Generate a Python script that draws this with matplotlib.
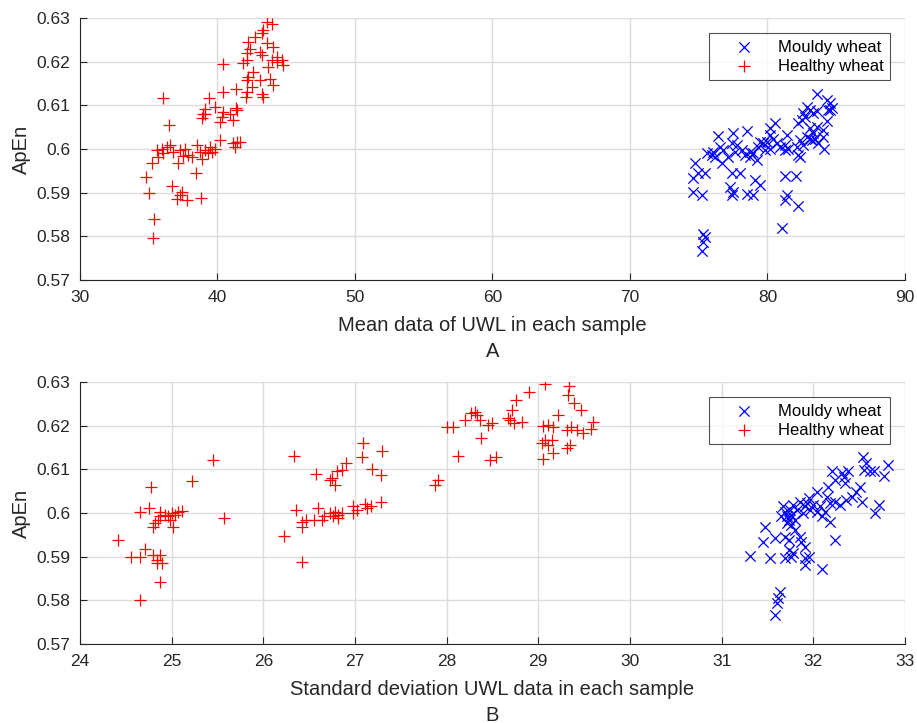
import numpy as np
import matplotlib.pyplot as plt

plt.rcParams['font.family'] = ['Liberation Sans', 'DejaVu Sans']

# Panel A: mean UWL vs ApEn
mean_healthy = np.array([
    43.58, 43.94, 43.33, 43.22, 42.73, 42.24, 44.06, 42.37, 43.09, 42.12,
    43.22, 43.94, 44.31, 44.67, 44.79, 42.12, 41.88, 40.38, 43.70, 42.61,
    42.25, 43.09, 43.82, 44.06, 42.12, 40.43, 41.35, 42.12, 43.22, 43.34,
    42.08, 36.02, 39.39, 39.82, 39.09, 38.92, 38.85, 40.43, 40.31, 40.18,
    40.91, 41.35, 41.45, 41.16, 36.50, 40.18, 41.16, 41.40, 41.64, 41.28,
    35.58, 35.94, 36.31, 36.55, 35.70, 36.79, 37.28, 37.64, 37.88, 38.49,
    38.73, 39.09, 39.34, 39.58, 39.82, 38.85, 37.15, 35.22, 38.44, 34.80,
    36.67, 37.40, 37.28, 37.03, 37.81, 38.78, 35.05, 35.39, 35.29, 38.12,
    39.46, 36.06, 37.52, 44.31, 43.58, 42.49, 39.09
])
apen_healthy_a = np.array([
    0.6291, 0.6286, 0.6272, 0.6265, 0.6257, 0.6246, 0.6234, 0.6230, 0.6223, 0.6219,
    0.6215, 0.6203, 0.6200, 0.6203, 0.6192, 0.6203, 0.6196, 0.6194, 0.6188, 0.6177,
    0.6165, 0.6158, 0.6161, 0.6146, 0.6158, 0.6131, 0.6137, 0.6131, 0.6127, 0.6118,
    0.6118, 0.6117, 0.6117, 0.6097, 0.6091, 0.6081, 0.6070, 0.6085, 0.6074, 0.6062,
    0.6081, 0.6093, 0.6089, 0.6066, 0.6056, 0.6020, 0.6013, 0.6017, 0.6017, 0.6005,
    0.5997, 0.6001, 0.6005, 0.6009, 0.5982, 0.5994, 0.5997, 0.6001, 0.5986, 0.6009,
    0.5994, 0.5997, 0.5990, 0.5994, 0.6001, 0.5978, 0.5968, 0.5967, 0.5944, 0.5936,
    0.5916, 0.5902, 0.5894, 0.5885, 0.5883, 0.5887, 0.5900, 0.5839, 0.5797, 0.5982,
    0.6005, 0.5990, 0.5984, 0.6211, 0.6242, 0.6143, 0.6081
])

mean_mouldy = np.array([
    83.58, 84.30, 84.55, 84.67, 84.43, 82.85, 83.09, 83.33, 83.58, 82.61,
    82.73, 84.30, 82.24, 80.55, 80.18, 78.49, 77.52, 76.43, 83.58, 83.33,
    83.09, 84.06, 84.06, 84.11, 74.73, 74.97, 75.46, 74.61, 74.61, 75.21,
    77.39, 78.00, 77.27, 77.52, 77.39, 78.49, 78.97, 79.09, 79.46, 81.27,
    82.07, 81.39, 81.27, 82.19, 81.03, 75.33, 75.46, 75.33, 75.26, 75.58,
    75.94, 76.06, 76.55, 76.79, 76.67, 77.15, 77.64, 77.76, 78.12, 78.36,
    78.73, 78.97, 79.21, 79.33, 79.70, 79.94, 80.18, 80.43, 80.67, 80.91,
    81.27, 81.27, 81.39, 82.12, 82.24, 82.36, 82.61, 82.85, 83.21, 83.45,
    83.70, 79.46, 80.18, 76.18, 77.39, 78.73, 79.82, 81.52, 82.36, 83.09,
    84.55, 82.49
])
apen_mouldy_a = np.array([
    0.6126, 0.6112, 0.6105, 0.6093, 0.6089, 0.6097, 0.6089, 0.6082, 0.6088, 0.6082,
    0.6073, 0.6063, 0.6059, 0.6059, 0.6047, 0.6042, 0.6036, 0.6030, 0.6051, 0.6036,
    0.6024, 0.6028, 0.6043, 0.6000, 0.5967, 0.5944, 0.5944, 0.5933, 0.5902, 0.5895,
    0.5944, 0.5944, 0.5914, 0.5902, 0.5895, 0.5898, 0.5895, 0.5929, 0.5917, 0.5938,
    0.5938, 0.5895, 0.5883, 0.5870, 0.5820, 0.5805, 0.5798, 0.5786, 0.5767, 0.5990,
    0.5986, 0.5994, 0.6005, 0.5998, 0.5967, 0.5982, 0.5994, 0.6009, 0.5998, 0.5986,
    0.5994, 0.5990, 0.5975, 0.6005, 0.6013, 0.6017, 0.6001, 0.6024, 0.6013, 0.6005,
    0.6009, 0.5998, 0.6032, 0.6005, 0.5986, 0.6021, 0.6009, 0.6028, 0.6021, 0.6024,
    0.6013, 0.6017, 0.6032, 0.5982, 0.6013, 0.5982, 0.5998, 0.6001, 0.5982, 0.6047,
    0.6089, 0.6066
])

# Panel B: standard deviation UWL vs ApEn
std_healthy = np.array([
    25.45, 25.22, 24.77, 24.65, 24.75, 24.87, 24.87, 24.85, 24.82, 24.80,
    24.96, 25.00, 25.04, 25.07, 25.11, 24.98, 25.02, 25.57, 24.41, 24.56,
    24.65, 24.71, 24.80, 24.87, 24.84, 24.84, 24.90, 24.87, 24.65, 24.93,
    26.34, 27.09, 27.30, 27.08, 26.90, 27.19, 27.28, 26.86, 26.80, 26.58,
    26.75, 26.73, 26.78, 26.36, 26.60, 26.98, 27.11, 27.13, 27.28, 27.18,
    26.98, 26.73, 26.78, 26.82, 26.76, 26.86, 26.81, 26.66, 26.42, 26.47,
    26.55, 26.64, 26.42, 26.23, 26.42, 27.02, 27.87, 27.91, 28.00, 28.07,
    28.12, 28.20, 28.27, 28.31, 28.33, 28.36, 28.45, 28.49, 28.38, 28.47,
    28.54, 28.76, 28.90, 28.71, 28.67, 28.73, 28.82, 29.07, 29.33, 29.32,
    29.39, 29.47, 29.22, 29.60, 29.58, 29.05, 29.11, 29.16, 29.31, 29.36,
    29.42, 29.49, 29.04, 29.07, 29.15, 29.11, 29.31, 29.35, 29.16, 29.05,
    28.69
])
apen_healthy_b = np.array([
    0.6121, 0.6073, 0.6059, 0.6003, 0.6012, 0.6003, 0.5992, 0.5984, 0.5977, 0.5969,
    0.5992, 0.6000, 0.5996, 0.6003, 0.6005, 0.5984, 0.5969, 0.5989, 0.5937, 0.5899,
    0.5899, 0.5917, 0.5904, 0.5904, 0.5892, 0.5885, 0.5885, 0.5843, 0.5801, 0.5996,
    0.6131, 0.6161, 0.6141, 0.6129, 0.6114, 0.6100, 0.6087, 0.6099, 0.6095, 0.6089,
    0.6080, 0.6076, 0.6064, 0.6007, 0.6012, 0.6016, 0.6021, 0.6011, 0.6026, 0.6016,
    0.6000, 0.6000, 0.6003, 0.5996, 0.5992, 0.6000, 0.5988, 0.5992, 0.5980, 0.5984,
    0.5984, 0.5984, 0.5969, 0.5947, 0.5888, 0.6007, 0.6064, 0.6076, 0.6196, 0.6196,
    0.6131, 0.6213, 0.6230, 0.6232, 0.6224, 0.6213, 0.6202, 0.6205, 0.6171, 0.6122,
    0.6128, 0.6259, 0.6276, 0.6236, 0.6217, 0.6205, 0.6209, 0.6295, 0.6291, 0.6270,
    0.6251, 0.6236, 0.6224, 0.6209, 0.6192, 0.6199, 0.6202, 0.6198, 0.6190, 0.6196,
    0.6190, 0.6184, 0.6160, 0.6166, 0.6167, 0.6156, 0.6148, 0.6156, 0.6137, 0.6123,
    0.6213
])

std_mouldy = np.array([
    32.54, 32.58, 32.55, 32.62, 32.66, 32.82, 32.77, 32.20, 32.31, 32.38,
    32.33, 32.24, 32.35, 32.16, 32.51, 32.47, 32.42, 32.36, 32.53, 32.72,
    32.67, 32.24, 32.10, 31.67, 31.69, 31.71, 31.73, 31.75, 31.76, 31.78,
    31.80, 31.65, 31.71, 31.76, 31.85, 31.91, 31.95, 31.96, 32.00, 32.04,
    32.04, 32.07, 32.09, 32.13, 32.18, 32.24, 32.29, 32.15, 31.89, 31.93,
    31.82, 31.47, 31.45, 31.58, 31.69, 31.73, 31.85, 31.87, 31.91, 31.31,
    31.53, 31.69, 31.76, 31.78, 31.91, 31.95, 31.91, 31.64, 31.62, 31.60,
    31.58, 31.73, 32.18, 31.80
])
apen_mouldy_b = np.array([
    0.6128, 0.6114, 0.6098, 0.6095, 0.6095, 0.6110, 0.6085, 0.6095, 0.6091, 0.6095,
    0.6083, 0.6076, 0.6068, 0.6060, 0.6060, 0.6049, 0.6037, 0.6030, 0.6026, 0.6018,
    0.5999, 0.5938, 0.5871, 0.6015, 0.6003, 0.5992, 0.5984, 0.6007, 0.5995, 0.6018,
    0.5984, 0.5992, 0.5976, 0.5973, 0.6026, 0.6015, 0.6034, 0.6007, 0.6018, 0.6049,
    0.6003, 0.6015, 0.5992, 0.6003, 0.6022, 0.6026, 0.6018, 0.6037, 0.6000, 0.6022,
    0.6007, 0.5967, 0.5934, 0.5942, 0.5945, 0.5938, 0.5945, 0.5934, 0.5923, 0.5902,
    0.5896, 0.5896, 0.5900, 0.5908, 0.5896, 0.5900, 0.5881, 0.5818, 0.5805, 0.5793,
    0.5767, 0.5915, 0.5980, 0.5961
])

fig = plt.figure(figsize=(9.17, 7.23), dpi=100)
ax1 = fig.add_axes([0.0872, 0.6127, 0.8997, 0.3624])
ax2 = fig.add_axes([0.0872, 0.1093, 0.8997, 0.3624])

panels = [
    (ax1, mean_mouldy, apen_mouldy_a, mean_healthy, apen_healthy_a,
     (30, 90), np.arange(30, 91, 10), "Mean data of UWL in each sample", "A"),
    (ax2, std_mouldy, apen_mouldy_b, std_healthy, apen_healthy_b,
     (24, 33), np.arange(24, 34, 1), "Standard deviation UWL data in each sample", "B"),
]

for ax, xm, ym, xh, yh, xlim, xticks, xlabel, tag in panels:
    ax.scatter(xm, ym, marker="x", s=55, color="blue", linewidths=0.9,
               label="Mouldy wheat", zorder=3)
    ax.scatter(xh, yh, marker="+", s=75, color="red", linewidths=0.9,
               label="Healthy wheat", zorder=3)
    ax.set_xlim(*xlim)
    ax.set_ylim(0.57, 0.63)
    ax.set_xticks(xticks)
    ax.set_yticks([0.57, 0.58, 0.59, 0.60, 0.61, 0.62, 0.63])
    ax.set_yticklabels(["0.57", "0.58", "0.59", "0.6", "0.61", "0.62", "0.63"])
    ax.grid(True, color="#dcdcdc", linewidth=1.0)
    ax.set_axisbelow(True)
    for s in ["top", "right"]:
        ax.spines[s].set_visible(False)
    for s in ["left", "bottom"]:
        ax.spines[s].set_color("#262626")
        ax.spines[s].set_linewidth(0.8)
    ax.tick_params(direction="in", length=5, width=0.8, labelsize=12.5,
                   colors="#262626", labelcolor="#262626", pad=7)
    ax.set_ylabel("ApEn", fontsize=14.5, color="#262626", labelpad=4)
    ax.set_xlabel(xlabel + "\n" + tag, fontsize=14.5, color="#262626",
                  linespacing=1.45, labelpad=8)
    leg = ax.legend(loc="upper right", bbox_to_anchor=(0.982, 0.943),
                    borderaxespad=0, fontsize=12, frameon=True, fancybox=False,
                    edgecolor="#262626", borderpad=0.4, handletextpad=0.3,
                    labelspacing=0.25, handlelength=3.4)
    leg.get_frame().set_linewidth(0.8)

fig.savefig("out.png", dpi=100)
